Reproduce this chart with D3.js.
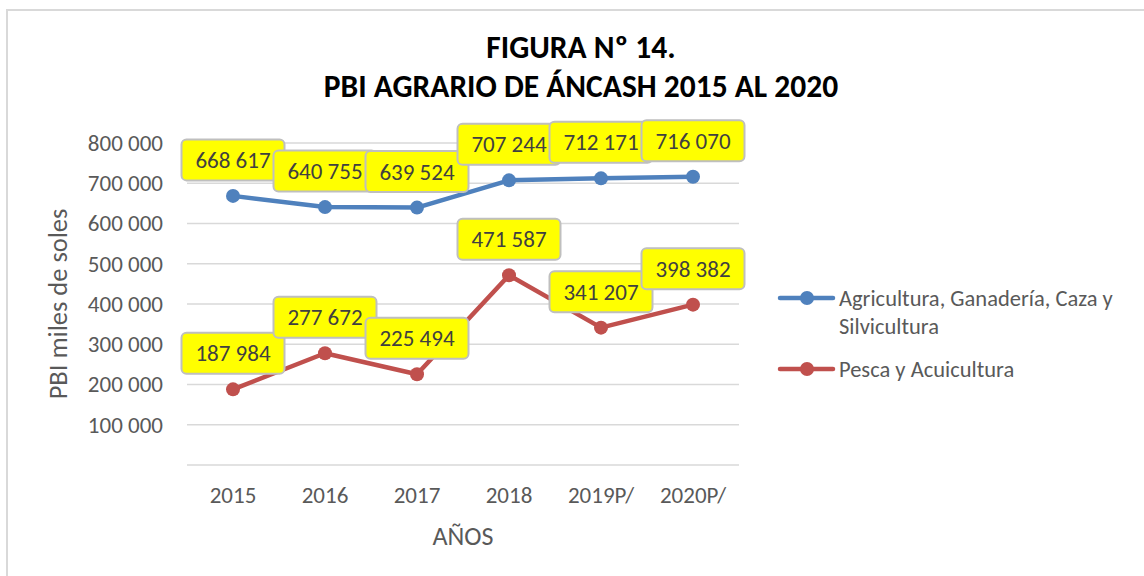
<!DOCTYPE html>
<html>
<head>
<meta charset="utf-8">
<script src="https://cdn.jsdelivr.net/npm/d3@7"></script>
<style>
  body { margin: 0; background: #fff; }
  svg { display: block; font-family: Carlito, Lato, sans-serif; }
</style>
</head>
<body>
<svg id="chart"></svg>
<script>
// data
var years = ["2015", "2016", "2017", "2018", "2019P/", "2020P/"];
var agricultura = [668617, 640755, 639524, 707244, 712171, 716070];
var pesca = [187984, 277672, 225494, 471587, 341207, 398382];
var yTicks = [100000, 200000, 300000, 400000, 500000, 600000, 700000, 800000];
var seriesNames = ["Agricultura, Ganadería, Caza y|Silvicultura", "Pesca y Acuicultura"];

var svgWidth = 1144, svgHeight = 576;
var margin = { top: 143, left: 187, right: 405, bottom: 111 };
var width = svgWidth - margin.left - margin.right;
var height = svgHeight - margin.top - margin.bottom;

var svg = d3.select("#chart").attr("width", svgWidth).attr("height", svgHeight);

// outer frame
svg.append("rect").attr("x", 7).attr("y", 10).attr("width", 1160).attr("height", 600)
  .attr("fill", "none").attr("stroke", "#d9d9d9").attr("stroke-width", 2);

var g = svg.append("g").attr("transform", "translate(" + margin.left + "," + margin.top + ")");

var x = d3.scaleBand().domain(years).range([0, width]);
var y = d3.scaleLinear().domain([0, 800000]).range([height, 0]);
var fmt = function(v) { return d3.format(",")(v).replace(/,/g, " "); };

// gridlines
g.append("g").selectAll("line").data([0].concat(yTicks)).join("line")
  .attr("x1", 0).attr("x2", width)
  .attr("y1", function(d) { return y(d); }).attr("y2", function(d) { return y(d); })
  .attr("stroke", "#d9d9d9").attr("stroke-width", 1.5);

// y axis labels
var yAxis = g.append("g").call(d3.axisLeft(y).tickValues(yTicks).tickFormat(fmt).tickSize(0).tickPadding(24));
yAxis.select(".domain").remove();
yAxis.selectAll("text").attr("font-size", 23).attr("fill", "#595959").attr("font-family", "Carlito, Lato, sans-serif");

// x axis labels
var xAxis = g.append("g").attr("transform", "translate(0," + height + ")")
  .call(d3.axisBottom(x).tickSize(0).tickPadding(22));
xAxis.select(".domain").remove();
xAxis.selectAll("text").attr("font-size", 23).attr("fill", "#595959").attr("font-family", "Carlito, Lato, sans-serif");

// axis titles
svg.append("text").attr("transform", "translate(67," + (margin.top + height / 2) + ") rotate(-90)")
  .attr("text-anchor", "middle").attr("font-size", 26.5).attr("fill", "#595959").text("PBI miles de soles");
svg.append("text").attr("x", 463).attr("y", 545).attr("text-anchor", "middle")
  .attr("font-size", 26).attr("fill", "#595959").text("AÑOS");

// title
svg.append("text").attr("x", 581).attr("y", 58).attr("text-anchor", "middle")
  .attr("font-size", 31.5).attr("font-weight", "bold").attr("fill", "#000").text("FIGURA Nº 14.");
svg.append("text").attr("x", 581).attr("y", 97).attr("text-anchor", "middle")
  .attr("font-size", 31.5).attr("font-weight", "bold").attr("fill", "#000").text("PBI AGRARIO DE ÁNCASH 2015 AL 2020");

var series = [
  { name: seriesNames[0], values: agricultura, color: "#4f81bd" },
  { name: seriesNames[1], values: pesca, color: "#c0504d" }
];

var line = d3.line()
  .x(function(d, i) { return x(years[i]) + x.bandwidth() / 2; })
  .y(function(d) { return y(d); });

series.forEach(function(s) {
  g.append("path").datum(s.values).attr("fill", "none").attr("stroke", s.color)
    .attr("stroke-width", 4.5).attr("stroke-linejoin", "round").attr("d", line);
  g.append("g").selectAll("circle").data(s.values).join("circle")
    .attr("cx", function(d, i) { return x(years[i]) + x.bandwidth() / 2; })
    .attr("cy", function(d) { return y(d); })
    .attr("r", 7).attr("fill", s.color);
});

// data labels (drawn after all lines, later boxes over earlier ones)
series.forEach(function(s) {
  var lab = g.append("g").selectAll("g").data(s.values).join("g")
    .attr("transform", function(d, i) {
      return "translate(" + (x(years[i]) + x.bandwidth() / 2) + "," + (y(d) - 36) + ")";
    });
  lab.append("rect").attr("x", -51.5).attr("y", -20.5).attr("width", 103).attr("height", 41)
    .attr("rx", 5).attr("fill", "#ffff00").attr("stroke", "#bfbfbf").attr("stroke-width", 2);
  lab.append("text").attr("text-anchor", "middle").attr("dy", "0.35em")
    .attr("font-size", 23).attr("fill", "#404040").text(fmt);
});

// legend
var legend = svg.append("g");
var legY = [298, 369];
series.forEach(function(s, k) {
  var lg = legend.append("g").attr("transform", "translate(780," + legY[k] + ")");
  lg.append("line").attr("x1", 0).attr("x2", 53).attr("stroke", s.color)
    .attr("stroke-width", 4.5).attr("stroke-linecap", "round");
  lg.append("circle").attr("cx", 27).attr("r", 7).attr("fill", s.color);
  var t = lg.append("text").attr("x", 59).attr("font-size", 22.5).attr("fill", "#595959");
  s.name.split("|").forEach(function(part, j) {
    t.append("tspan").attr("x", 59).attr("dy", j === 0 ? "0.35em" : 28).text(part);
  });
});
</script>
</body>
</html>
